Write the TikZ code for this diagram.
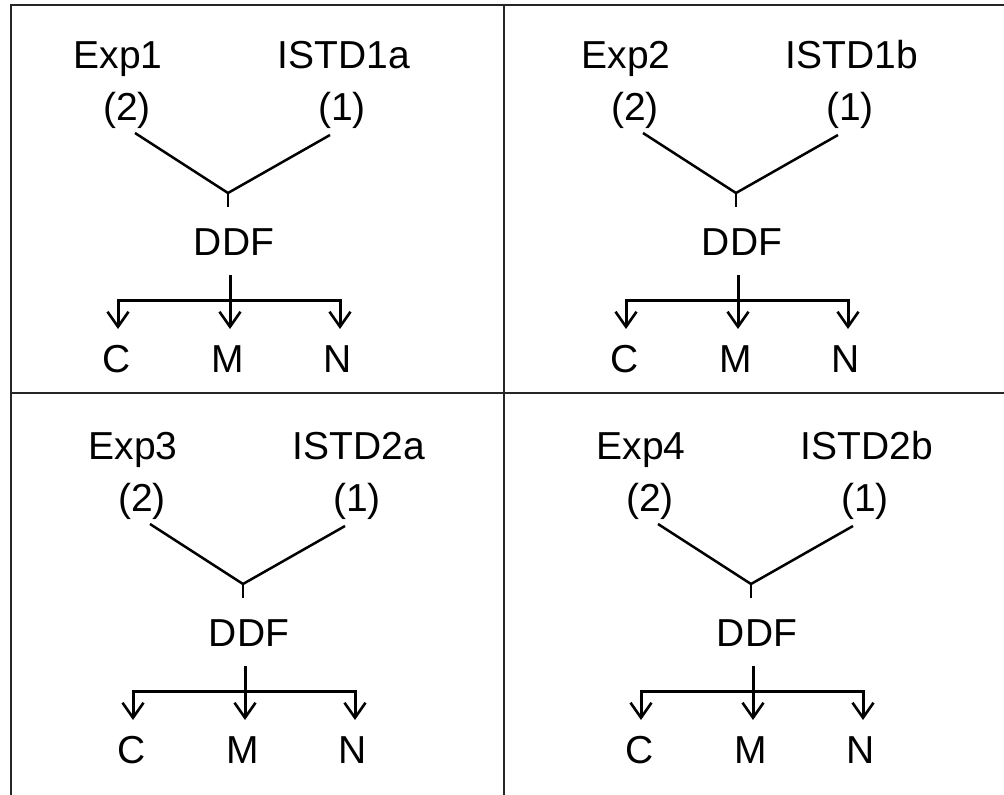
\documentclass[tikz,border=0pt]{standalone}
\usepackage{fontspec}
\setmainfont{Liberation Sans}
\usetikzlibrary{arrows.meta}
\tikzset{
 lbl/.style={font=\fontsize{39}{44}\selectfont, inner sep=0pt, anchor=base},
 conn/.style={line width=2.5pt},
 branch/.style={line width=3pt, line join=miter},
 arr/.style={line width=3pt, line join=miter, -{Straight Barb[length=15pt,width=21pt,line width=2.6pt]}},
 frame/.style={line width=2.6pt, color=black!85}
}
\newcommand\drawpanel[5]{%
\begin{scope}[shift={(#1,#2)}]
 \node[lbl] (#5exp) at (118,68) {#3};
 \node[lbl] (#5istd) at (344,68) {#4};
 \node[lbl] (#5two) at (127,120) {(2)};
 \node[lbl] (#5one) at (342,120) {(1)};
 \coordinate (#5a) at (135,133);
 \coordinate (#5b) at (330,135);
 \coordinate (#5j) at (228,193);
 \coordinate (#5s) at (228,207);
 \draw[conn] (#5a) -- (#5j) -- (#5b);
 \draw[conn] (#5j) -- (#5s);
 \node[lbl] (#5ddf) at (234,255) {DDF};
 \coordinate (#5t) at (230,275);
 \coordinate (#5h) at (230,300);
 \coordinate (#5tC) at (118,329);
 \coordinate (#5tM) at (230,329);
 \coordinate (#5tN) at (340,329);
 \draw[arr] (#5h) -| (#5tC);
 \draw[arr] (#5h) -| (#5tN);
 \draw[arr] (#5t) -- (#5tM);
 \node[lbl] (#5C) at (117,372) {C};
 \node[lbl] (#5M) at (228,372) {M};
 \node[lbl] (#5N) at (338,372) {N};
\end{scope}}
\begin{document}
\begin{tikzpicture}[x=1pt,y=-1pt]
\useasboundingbox (0,0) rectangle (1004,795);
\coordinate (tl) at (11,5);
\coordinate (tr) at (1004,5);
\coordinate (bl) at (11,795);
\coordinate (tm) at (504,5);
\coordinate (bm) at (504,795);
\coordinate (ml) at (11,393);
\coordinate (mr) at (1004,393);
\draw[frame] (bl) -- (tl) -- (tr);
\draw[frame] (tm) -- (bm);
\draw[frame] (ml) -- (mr);
\drawpanel{0}{0}{Exp1}{ISTD1a}{p}
\drawpanel{508}{0}{Exp2}{ISTD1b}{q}
\drawpanel{15}{391}{Exp3}{ISTD2a}{r}
\drawpanel{523}{391}{Exp4}{ISTD2b}{s}
\end{tikzpicture}
\end{document}
